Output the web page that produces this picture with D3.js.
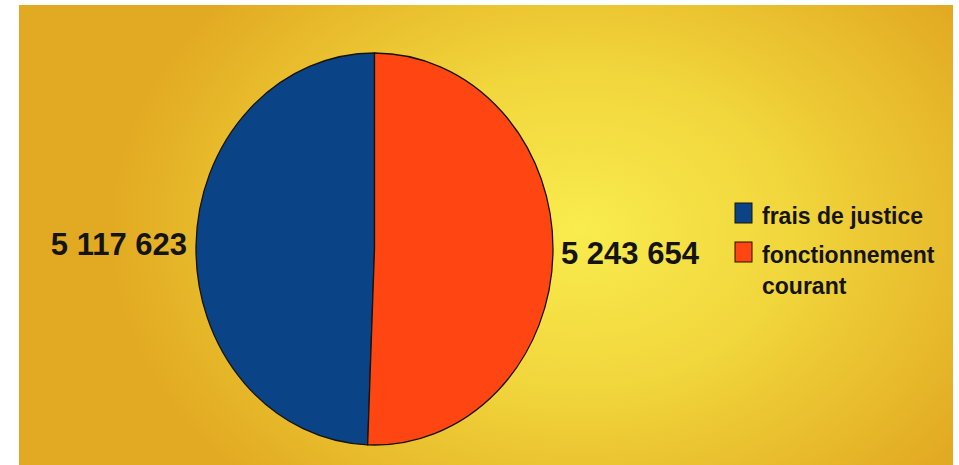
<!DOCTYPE html>
<html><head><meta charset="utf-8">
<script src="https://cdn.jsdelivr.net/npm/d3@7"></script>
<style>html,body{margin:0;padding:0;background:#fff;}svg{display:block;}</style>
</head><body>
<script>
const categories = ["frais de justice", "fonctionnement courant"];
const values = [5117623, 5243654];
const valueLabels = ["5 117 623", "5 243 654"];
const colors = ["#0a4486", "#ff4612"];

const W = 959, H = 465;
const svg = d3.select("body").append("svg").attr("width", W).attr("height", H);
const defs = svg.append("defs");
const grad = defs.append("radialGradient").attr("id", "bg")
  .attr("gradientUnits", "userSpaceOnUse")
  .attr("cx", 580).attr("cy", 230).attr("r", 470)
  .attr("gradientTransform", "translate(580,230) scale(1,0.75) translate(-580,-230)");
grad.append("stop").attr("offset", "0").attr("stop-color", "#f9ec4e");
grad.append("stop").attr("offset", "0.45").attr("stop-color", "#f1d63c");
grad.append("stop").attr("offset", "1").attr("stop-color", "#e2aa22");
svg.append("rect").attr("x", 19).attr("y", 5).attr("width", 934).attr("height", 460).attr("fill", "url(#bg)");

const cx = 374.5, cy = 249, rx = 178.5, ry = 196;
const total = d3.sum(values);
const start = -2 * Math.PI * values[0] / total;
const pie = d3.pie().sort(null).startAngle(start).endAngle(start + 2 * Math.PI);
const arcs = pie(values);
const arc = d3.arc().innerRadius(0).outerRadius(ry);
const g = svg.append("g").attr("transform", `translate(${cx},${cy}) scale(${rx / ry},1)`);
g.selectAll("path").data(arcs).join("path")
  .attr("d", arc)
  .attr("fill", (d, i) => colors[i])
  .attr("stroke", "#1a1208").attr("stroke-width", 1.3)
  .attr("vector-effect", "non-scaling-stroke");

const font = "'Liberation Sans', Arial, sans-serif";
svg.append("text").attr("x", 187).attr("y", 255).attr("text-anchor", "end")
  .attr("font-family", font).attr("font-weight", "bold").attr("font-size", 31)
  .attr("fill", "#141414").text(valueLabels[0]);
svg.append("text").attr("x", 561).attr("y", 264).attr("text-anchor", "start")
  .attr("font-family", font).attr("font-weight", "bold").attr("font-size", 31)
  .attr("fill", "#141414").text(valueLabels[1]);

// legend
const leg = svg.append("g");
const legRows = [{y: 203, lines: ["frais de justice"]}, {y: 242, lines: ["fonctionnement", "courant"]}];
legRows.forEach((r, i) => {
  leg.append("rect").attr("x", 735).attr("y", r.y).attr("width", 17).attr("height", 20)
    .attr("fill", colors[i]).attr("stroke", "#1a1208").attr("stroke-width", 1);
  r.lines.forEach((t, j) => {
    leg.append("text").attr("x", 762).attr("y", r.y + 21 + j * 31)
      .attr("font-family", font).attr("font-weight", "bold").attr("font-size", 23)
      .attr("fill", "#141414").text(t);
  });
});
</script>
</body></html>
